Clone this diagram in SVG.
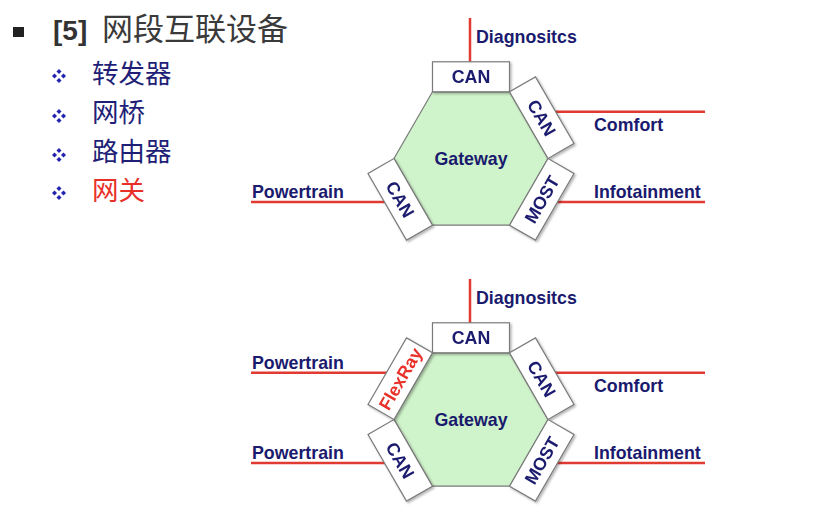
<svg xmlns="http://www.w3.org/2000/svg" width="832" height="510" viewBox="0 0 832 510">
<defs>
<style>
.lbl{font-family:"Liberation Sans",Arial,sans-serif;font-weight:bold;font-size:17.8px;fill:#1a1a6e}
.tt{font-family:"Liberation Sans",Arial,sans-serif;font-weight:bold;font-size:17.8px;fill:#1a1a6e;text-anchor:middle}
.red{fill:#e8302a}
.hex{fill:#cff3ca;stroke:#7a7a7a;stroke-width:1.2}
.tab{fill:#ffffff;stroke:#7a7a7a;stroke-width:1.2}
.wire{stroke:#e03a32;stroke-width:2.5;fill:none}
.cjk{font-family:"Liberation Sans","Noto Sans CJK SC",sans-serif}
.sub{font-size:26.5px;fill:#1f1f78}
</style>
<filter id="sh" x="-20%" y="-20%" width="140%" height="140%">
<feDropShadow dx="1.5" dy="1.5" stdDeviation="0.8" flood-color="#000" flood-opacity="0.3"/>
</filter>
<g id="bul" fill="#2323b0">
<rect x="-1.8" y="-6.3" width="3.6" height="3.6" transform="rotate(45 0 -4.5)"/>
<rect x="-1.8" y="2.7" width="3.6" height="3.6" transform="rotate(45 0 4.5)"/>
<rect x="-6.3" y="-1.8" width="3.6" height="3.6" transform="rotate(45 -4.5 0)"/>
<rect x="2.7" y="-1.8" width="3.6" height="3.6" transform="rotate(45 4.5 0)"/>
</g>
</defs>
<rect width="832" height="510" fill="#ffffff"/>

<g id="title">
<rect x="13" y="27" width="11" height="10" fill="#222"/>
<text x="53" y="40" font-family="Liberation Sans,Arial,sans-serif" font-weight="bold" font-size="28" fill="#333">[5]</text>
<text x="102" y="40" class="cjk" font-size="31" fill="#3a3a3a">网段互联设备</text>
</g>
<g id="list">
<use href="#bul" x="59" y="76"/>
<text x="92" y="83" class="cjk sub">转发器</text>
<use href="#bul" x="59" y="116"/>
<text x="92" y="122" class="cjk sub">网桥</text>
<use href="#bul" x="59" y="155"/>
<text x="92" y="161" class="cjk sub">路由器</text>
<use href="#bul" x="59" y="193"/>
<text x="92" y="200" class="cjk sub" style="fill:#e8302a">网关</text>
</g>

<!-- Diagram 1 -->
<g id="connectors1">
<line class="wire" x1="470" y1="18" x2="470" y2="70"/>
<line class="wire" x1="545" y1="111.7" x2="705" y2="111.7"/>
<line class="wire" x1="545" y1="202" x2="705" y2="202"/>
<line class="wire" x1="251" y1="202" x2="395" y2="202"/>
</g>
<g id="gateway1">
<polygon class="hex" points="548,158.5 509.5,225.2 432.5,225.2 394,158.5 432.5,91.8 509.5,91.8"/>
<text class="tt" x="471" y="164.8">Gateway</text>
</g>
<g id="tab1-top" filter="url(#sh)"><g transform="translate(471 158.5)">
<rect class="tab" x="-38.5" y="-96.7" width="77" height="30"/>
<text class="tt" x="0" y="-75.3">CAN</text></g></g>
<g id="tab1-ur" filter="url(#sh)"><g transform="translate(471 158.5) rotate(60)">
<rect class="tab" x="-38.5" y="-96.7" width="77" height="30"/>
<text class="tt" x="0" y="-75.3">CAN</text></g></g>
<g id="tab1-lr" filter="url(#sh)"><g transform="translate(471 158.5) rotate(120)">
<rect class="tab" x="-38.5" y="-96.7" width="77" height="30"/>
<text class="tt" transform="rotate(180 0 -81.7)" x="0" y="-75.3">MOST</text></g></g>
<g id="tab1-ll" filter="url(#sh)"><g transform="translate(471 158.5) rotate(240)">
<rect class="tab" x="-38.5" y="-96.7" width="77" height="30"/>
<text class="tt" transform="rotate(180 0 -81.7)" x="0" y="-75.3">CAN</text></g></g>
<g id="labels1">
<text class="lbl" x="476" y="43">Diagnositcs</text>
<text class="lbl" x="594" y="131">Comfort</text>
<text class="lbl" x="594" y="198">Infotainment</text>
<text class="lbl" x="252" y="198">Powertrain</text>
</g>

<!-- Diagram 2 -->
<g id="connectors2">
<line class="wire" x1="470" y1="279" x2="470" y2="331"/>
<line class="wire" x1="545" y1="372.7" x2="705" y2="372.7"/>
<line class="wire" x1="545" y1="463" x2="705" y2="463"/>
<line class="wire" x1="251" y1="463" x2="395" y2="463"/>
<line class="wire" x1="251" y1="372.7" x2="395" y2="372.7"/>
</g>
<g id="gateway2">
<polygon class="hex" points="548,419.5 509.5,486.2 432.5,486.2 394,419.5 432.5,352.8 509.5,352.8"/>
<text class="tt" x="471" y="425.8">Gateway</text>
</g>
<g id="tab2-top" filter="url(#sh)"><g transform="translate(471 419.5)">
<rect class="tab" x="-38.5" y="-96.7" width="77" height="30"/>
<text class="tt" x="0" y="-75.3">CAN</text></g></g>
<g id="tab2-ur" filter="url(#sh)"><g transform="translate(471 419.5) rotate(60)">
<rect class="tab" x="-38.5" y="-96.7" width="77" height="30"/>
<text class="tt" x="0" y="-75.3">CAN</text></g></g>
<g id="tab2-lr" filter="url(#sh)"><g transform="translate(471 419.5) rotate(120)">
<rect class="tab" x="-38.5" y="-96.7" width="77" height="30"/>
<text class="tt" transform="rotate(180 0 -81.7)" x="0" y="-75.3">MOST</text></g></g>
<g id="tab2-ll" filter="url(#sh)"><g transform="translate(471 419.5) rotate(240)">
<rect class="tab" x="-38.5" y="-96.7" width="77" height="30"/>
<text class="tt" transform="rotate(180 0 -81.7)" x="0" y="-75.3">CAN</text></g></g>
<g id="tab2-ul" filter="url(#sh)"><g transform="translate(471 419.5) rotate(300)">
<rect class="tab" x="-38.5" y="-96.7" width="77" height="30"/>
<text class="tt red" x="0" y="-75.3">FlexRay</text></g></g>
<g id="labels2">
<text class="lbl" x="476" y="304">Diagnositcs</text>
<text class="lbl" x="594" y="392">Comfort</text>
<text class="lbl" x="594" y="459">Infotainment</text>
<text class="lbl" x="252" y="459">Powertrain</text>
<text class="lbl" x="252" y="369">Powertrain</text>
</g>
</svg>
